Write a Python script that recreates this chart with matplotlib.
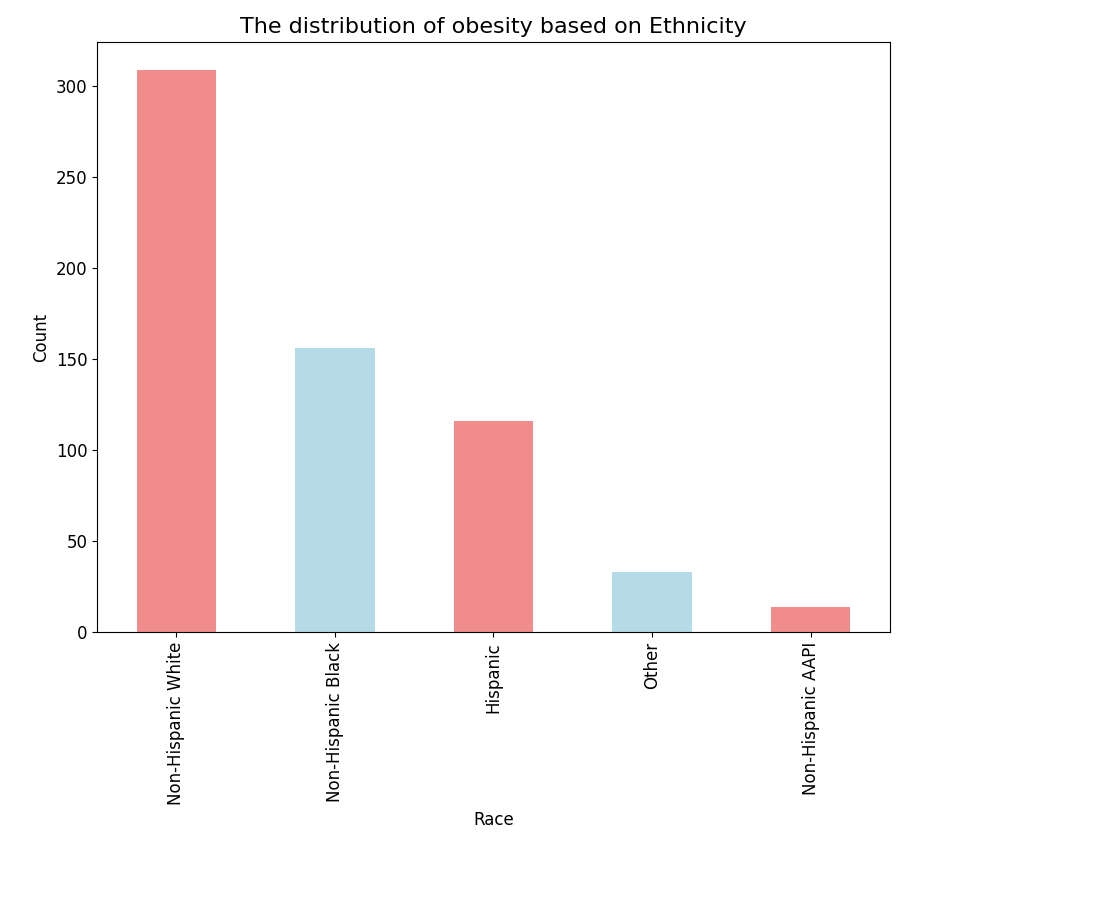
import matplotlib
matplotlib.use("Agg")
import matplotlib.pyplot as plt
import pandas as pd

races = ["Non-Hispanic White", "Non-Hispanic Black", "Hispanic", "Other", "Non-Hispanic AAPI"]
counts = [309, 156, 116, 33, 14]
colors = ["lightcoral", "lightblue", "lightcoral", "lightblue", "lightcoral"]

fig = plt.figure(figsize=(11.04, 9.06), dpi=100)
ax = fig.add_axes([0.088, 0.302, 0.718, 0.652])
s = pd.Series(counts, index=races)
s.plot(kind="bar", ax=ax, color=colors, alpha=0.9)
ax.set_title("The distribution of obesity based on Ethnicity", fontsize=16)
ax.set_xlabel("Race", fontsize=12)
ax.set_ylabel("Count", fontsize=12)
ax.tick_params(labelsize=12)
fig.savefig("out.png", dpi=100)
